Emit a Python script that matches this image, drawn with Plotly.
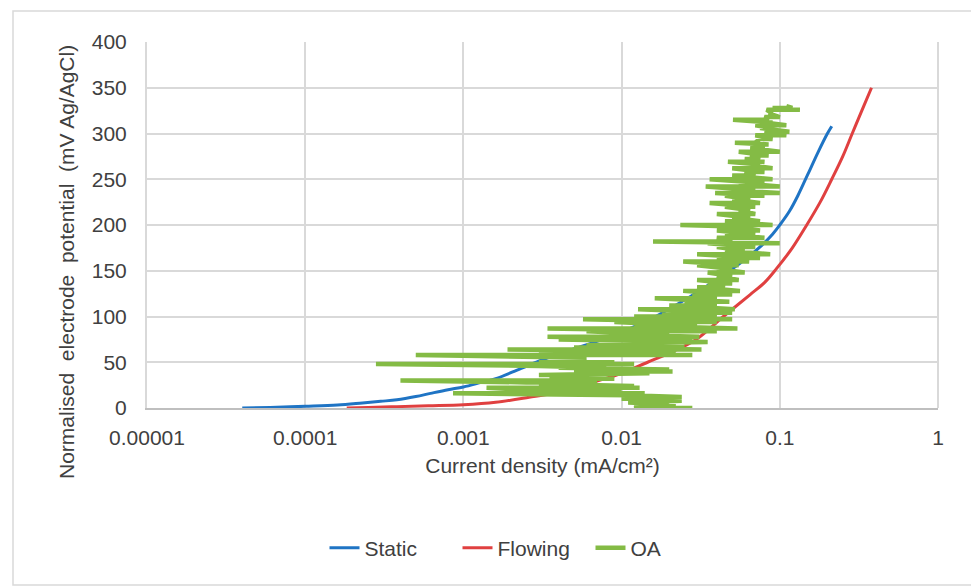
import plotly.graph_objects as go

# ---- data ----
static_x = [4e-5, 6e-5, 1e-4, 1.6e-4, 2.3e-4, 3e-4, 3.8e-4, 5e-4, 6.2e-4, 8e-4, 1e-3, 1.3e-3, 1.6e-3,
            2.3e-3, 3.2e-3, 4.5e-3, 6.5e-3, 1e-2, 1.64e-2, 2.5e-2, 3.5e-2, 4.8e-2, 6e-2, 7.5e-2,
            9e-2, 0.1, 0.115, 0.13, 0.15, 0.175, 0.2, 0.213]
static_y = [0, 0.6, 1.8, 3.2, 5.5, 7.3, 9, 12.5, 16, 20, 23, 28, 32,
            43, 53, 62, 71, 83, 100, 118, 134, 150, 162, 176,
            190, 200, 215, 232, 255, 280, 300, 308]

flow_x = [1.83e-4, 2.5e-4, 3.8e-4, 6e-4, 1e-3, 1.6e-3, 2.6e-3, 3.9e-3, 5.5e-3, 7.5e-3, 1e-2, 1.46e-2,
          2e-2, 2.96e-2, 4.4e-2, 6.5e-2, 8e-2, 9.5e-2, 0.12, 0.148, 0.18, 0.213, 0.25, 0.287, 0.33, 0.38]
flow_y = [0, 0.6, 1.5, 2.4, 3.5, 6.2, 11.7, 17, 24, 31, 38, 50,
          60, 75, 100, 124, 137, 152, 175, 200, 225, 250, 275, 300, 325, 350]

oa_x = [0.013, 0.028, 0.012, 0.025, 0.013, 0.022, 0.012, 0.020, 0.011, 0.024, 0.012, 0.018, 0.010,
        0.024, 0.011, 0.00086, 0.014, 0.004, 0.010, 0.0025, 0.0014, 0.013, 0.003, 0.012, 0.0035,
        0.007, 0.0025, 0.0004, 0.005, 0.0035, 0.009, 0.004, 0.006, 0.003, 0.015, 0.005, 0.021,
        0.006, 0.020, 0.004, 0.008, 0.003, 0.00028, 0.012, 0.004, 0.009, 0.003, 0.006, 0.0005,
        0.028, 0.004, 0.018, 0.003, 0.022, 0.0019, 0.032, 0.005, 0.020, 0.008, 0.025, 0.006,
        0.035, 0.004, 0.028, 0.0034, 0.031, 0.010, 0.020, 0.006, 0.040, 0.0034, 0.054, 0.012,
        0.030, 0.009, 0.040, 0.0057, 0.050, 0.012, 0.040, 0.018, 0.050, 0.0127, 0.052, 0.020,
        0.040, 0.025, 0.048, 0.0162, 0.040, 0.028, 0.050, 0.0245, 0.056, 0.030, 0.045, 0.035,
        0.050, 0.030, 0.055, 0.040, 0.050, 0.035, 0.060, 0.040, 0.050, 0.030, 0.055, 0.0245,
        0.064, 0.040, 0.075, 0.030, 0.087, 0.045, 0.060, 0.040, 0.070, 0.035, 0.100, 0.0158,
        0.050, 0.040, 0.080, 0.045, 0.070, 0.040, 0.075, 0.050, 0.060, 0.0235, 0.090, 0.045,
        0.075, 0.050, 0.065, 0.040, 0.070, 0.055, 0.065, 0.045, 0.070, 0.036, 0.075, 0.050,
        0.065, 0.045, 0.080, 0.039, 0.100, 0.050, 0.070, 0.034, 0.100, 0.055, 0.080, 0.036,
        0.090, 0.050, 0.070, 0.060, 0.080, 0.050, 0.090, 0.060, 0.075, 0.047, 0.080, 0.060,
        0.075, 0.065, 0.085, 0.055, 0.100, 0.065, 0.080, 0.070, 0.085, 0.052, 0.070, 0.075,
        0.090, 0.070, 0.110, 0.080, 0.115, 0.075, 0.090, 0.070, 0.110, 0.080, 0.090, 0.0506,
        0.085, 0.080, 0.100, 0.085, 0.090, 0.0825, 0.134, 0.090, 0.120, 0.110]
oa_y = [0, 0, 0, 1, 1, 2, 4, 4, 6, 8, 8, 10, 10,
        12, 14, 16, 16, 18, 18, 20, 22, 22, 24, 24, 26,
        28, 28, 30, 30, 32, 32, 34, 36, 36, 38, 40, 40,
        42, 42, 44, 44, 46, 48, 48, 50, 50, 52, 55, 58,
        58, 60, 60, 62, 62, 64, 64, 66, 66, 68, 68, 70,
        72, 75, 75, 78, 78, 80, 80, 84, 84, 87, 87, 90,
        90, 94, 94, 97, 97, 100, 100, 104, 104, 108, 108, 112,
        112, 116, 116, 120, 120, 124, 124, 128, 128, 132, 132, 136,
        136, 140, 140, 144, 144, 148, 148, 152, 152, 156, 156, 160,
        160, 164, 164, 168, 168, 172, 172, 176, 176, 180, 180, 182,
        182, 186, 186, 190, 190, 194, 194, 198, 198, 200, 200, 204,
        204, 208, 208, 212, 212, 216, 216, 220, 220, 224, 224, 228,
        228, 232, 232, 235, 235, 238, 238, 242, 242, 246, 246, 250,
        250, 254, 254, 258, 258, 262, 262, 266, 266, 269, 269, 272,
        272, 276, 276, 280, 280, 284, 284, 288, 288, 290, 290, 294,
        294, 298, 298, 302, 302, 306, 306, 309, 309, 312, 312, 315,
        315, 318, 318, 322, 322, 326, 326, 328, 328, 330]

x_tickvals = [1e-5, 1e-4, 1e-3, 1e-2, 1e-1, 1]
x_ticktext = ["0.00001", "0.0001", "0.001", "0.01", "0.1", "1"]

# ---- figure ----
BLUE = "#1f74c4"
RED = "#e04040"
GREEN = "#84bb45"
GRID = "#d9d9d9"
FONT = "Liberation Sans, Arial, sans-serif"
FS = 21

fig = go.Figure()
fig.add_trace(go.Scatter(x=static_x, y=static_y, mode="lines", name="Static",
                         line=dict(color=BLUE, width=3, shape="spline", smoothing=1.0)))
fig.add_trace(go.Scatter(x=flow_x, y=flow_y, mode="lines", name="Flowing",
                         line=dict(color=RED, width=3, shape="spline", smoothing=1.0)))
fig.add_trace(go.Scatter(x=oa_x, y=oa_y, mode="lines", name="OA",
                         line=dict(color=GREEN, width=4.5)))

W, H = 971, 586
L, R, T, B = 147, 33, 42, 178
pw, ph = W - L - R, H - T - B

def px2paper(px, py):
    return (px - L) / pw, (H - B - py) / ph

x0, y0 = px2paper(13, 585)
x1, y1 = px2paper(975, 11)
fig.add_shape(type="rect", xref="paper", yref="paper", x0=x0, y0=y0, x1=x1, y1=y1,
              line=dict(color="#d9d9d9", width=1.5), fillcolor="rgba(0,0,0,0)", layer="below")

lx, ly = px2paper(524, 548)
tx, ty = px2paper(66, 262)

fig.add_annotation(xref="paper", yref="paper", x=tx, y=ty, xanchor="center", yanchor="middle",
                   textangle=-90, showarrow=False,
                   text="Normalised\u00a0\u00a0electrode\u00a0\u00a0potential\u00a0\u00a0(mV Ag/AgCl)",
                   font=dict(size=FS, color="#404040", family=FONT))

fig.update_layout(
    width=W, height=H,
    margin=dict(l=L, r=R, t=T, b=B),
    paper_bgcolor="white", plot_bgcolor="white",
    font=dict(family=FONT, size=FS, color="#404040"),
    showlegend=True,
    legend=dict(orientation="h", x=lx, y=ly, xanchor="center", yanchor="middle",
                font=dict(size=FS, color="#404040"), traceorder="normal",
                entrywidth=88),
    xaxis=dict(type="log", range=[-5, 0], tickvals=x_tickvals, ticktext=x_ticktext,
               showgrid=True, gridcolor=GRID, gridwidth=2,
               showline=True, linecolor="#bfbfbf", linewidth=2, mirror=False,
               ticks="", ticklabelstandoff=10, zeroline=False,
               title=dict(text="Current density (mA/cm²)", standoff=10,
                          font=dict(size=FS, color="#404040"))),
    yaxis=dict(range=[0, 400], dtick=50, tick0=0,
               showgrid=True, gridcolor=GRID, gridwidth=2,
               showline=True, linecolor=GRID, linewidth=2, mirror=False,
               ticks="", ticklabelstandoff=14, zeroline=False),
)
fig.add_shape(type="line", xref="paper", yref="paper", x0=1, x1=1, y0=0, y1=1,
              line=dict(color=GRID, width=2), layer="below")

fig.write_html("out.html")
